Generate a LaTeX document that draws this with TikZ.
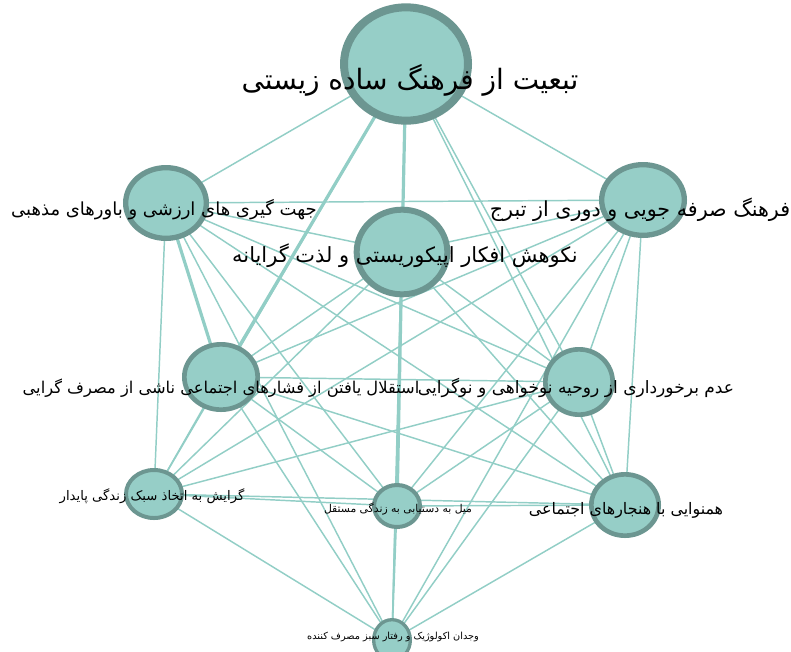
\documentclass[tikz,border=0pt]{standalone}
\usepackage{fontspec}
\usetikzlibrary{shapes.geometric, backgrounds}
\newfontfamily\fa[Script=Arabic]{DejaVu Sans}
\TeXXeTstate=1
\definecolor{edgeteal}{RGB}{146,206,198}
\definecolor{nodefill}{RGB}{150,206,199}
\definecolor{noderim}{RGB}{108,150,145}

\begin{document}
\begin{tikzpicture}[x=0.75pt, y=-0.75pt,
    bubble/.style={ellipse, draw=noderim, fill=nodefill, inner sep=0pt},
    link/.style={draw=edgeteal, line width=1.1pt},
    boldlink/.style={draw=edgeteal, line width=2.4pt},
    lbl/.style={text=black, inner sep=0pt}]
  \useasboundingbox (0,0) rectangle (791,651);
  % nodes
  \node[bubble, line width=6pt, minimum width=93pt, minimum height=85pt] (top) at (406,64) {};
  \node[bubble, line width=4pt, minimum width=60.5pt, minimum height=53pt] (relig) at (166,203) {};
  \node[bubble, line width=4pt, minimum width=62pt, minimum height=53pt] (thrift) at (643,200) {};
  \node[bubble, line width=4.5pt, minimum width=68pt, minimum height=63.5pt] (epic) at (402,252) {};
  \node[bubble, line width=3.5pt, minimum width=55pt, minimum height=49pt] (indep) at (221,377) {};
  \node[bubble, line width=3.5pt, minimum width=50.5pt, minimum height=49pt] (novel) at (579,382) {};
  \node[bubble, line width=3pt, minimum width=42pt, minimum height=36pt] (sustain) at (154,494) {};
  \node[bubble, line width=3pt, minimum width=34.5pt, minimum height=31.5pt] (selfliv) at (397,506) {};
  \node[bubble, line width=3.5pt, minimum width=50.5pt, minimum height=46pt] (conform) at (625,505) {};
  \node[bubble, line width=2.5pt, minimum width=27.5pt, minimum height=30.5pt] (eco) at (392,640) {};
  % links
  \begin{pgfonlayer}{background}
    \foreach \a [count=\i] in {top,relig,thrift,epic,indep,novel,sustain,selfliv,conform,eco}
      \foreach \b [count=\j] in {top,relig,thrift,epic,indep,novel,sustain,selfliv,conform,eco}
        {\ifnum\j>\i \draw[link] (\a.center) -- (\b.center); \fi}
    \draw[boldlink] (top.center) -- (epic.center);
    \draw[boldlink] (epic.center) -- (selfliv.center);
    \draw[boldlink] (top.center) -- (indep.center);
    \draw[boldlink] (relig.center) -- (indep.center);
  \end{pgfonlayer}
  % labels
  \node[lbl, font=\fa\fontsize{21}{25}\selectfont] (ltop) at (410,80) {\beginR تبعیت از فرهنگ ساده زیستی\endR};
  \node[lbl, font=\fa\fontsize{13.5}{16}\selectfont] (lrelig) at (164,210) {\beginR جهت گیری های ارزشی و باورهای مذهبی\endR};
  \node[lbl, font=\fa\fontsize{15.5}{18}\selectfont] (lthrift) at (640,210) {\beginR فرهنگ صرفه جویی و دوری از تبرج\endR};
  \node[lbl, font=\fa\fontsize{15.7}{19}\selectfont] (lepic) at (405,256) {\beginR نکوهش افکار اپیکوریستی و لذت گرایانه\endR};
  \node[lbl, font=\fa\fontsize{12.2}{15}\selectfont] (lindep) at (221,388) {\beginR استقلال یافتن از فشارهای اجتماعی ناشی از مصرف گرایی\endR};
  \node[lbl, font=\fa\fontsize{12.8}{15}\selectfont] (lnovel) at (576,388) {\beginR عدم برخورداری از روحیه نوخواهی و نوگرایی\endR};
  \node[lbl, font=\fa\fontsize{9.9}{12}\selectfont] (lsustain) at (152,496) {\beginR گرایش به اتخاذ سبک زندگی پایدار\endR};
  \node[lbl, font=\fa\fontsize{8.1}{10}\selectfont] (lselfliv) at (398,509) {\beginR میل به دستیابی به زندگی مستقل\endR};
  \node[lbl, font=\fa\fontsize{11.9}{14}\selectfont] (lconform) at (626,510) {\beginR همنوایی با هنجارهای اجتماعی\endR};
  \node[lbl, font=\fa\fontsize{7.3}{9}\selectfont] (leco) at (393,637) {\beginR وجدان اکولوژیک و رفتار سبز مصرف کننده\endR};
\end{tikzpicture}
\end{document}
